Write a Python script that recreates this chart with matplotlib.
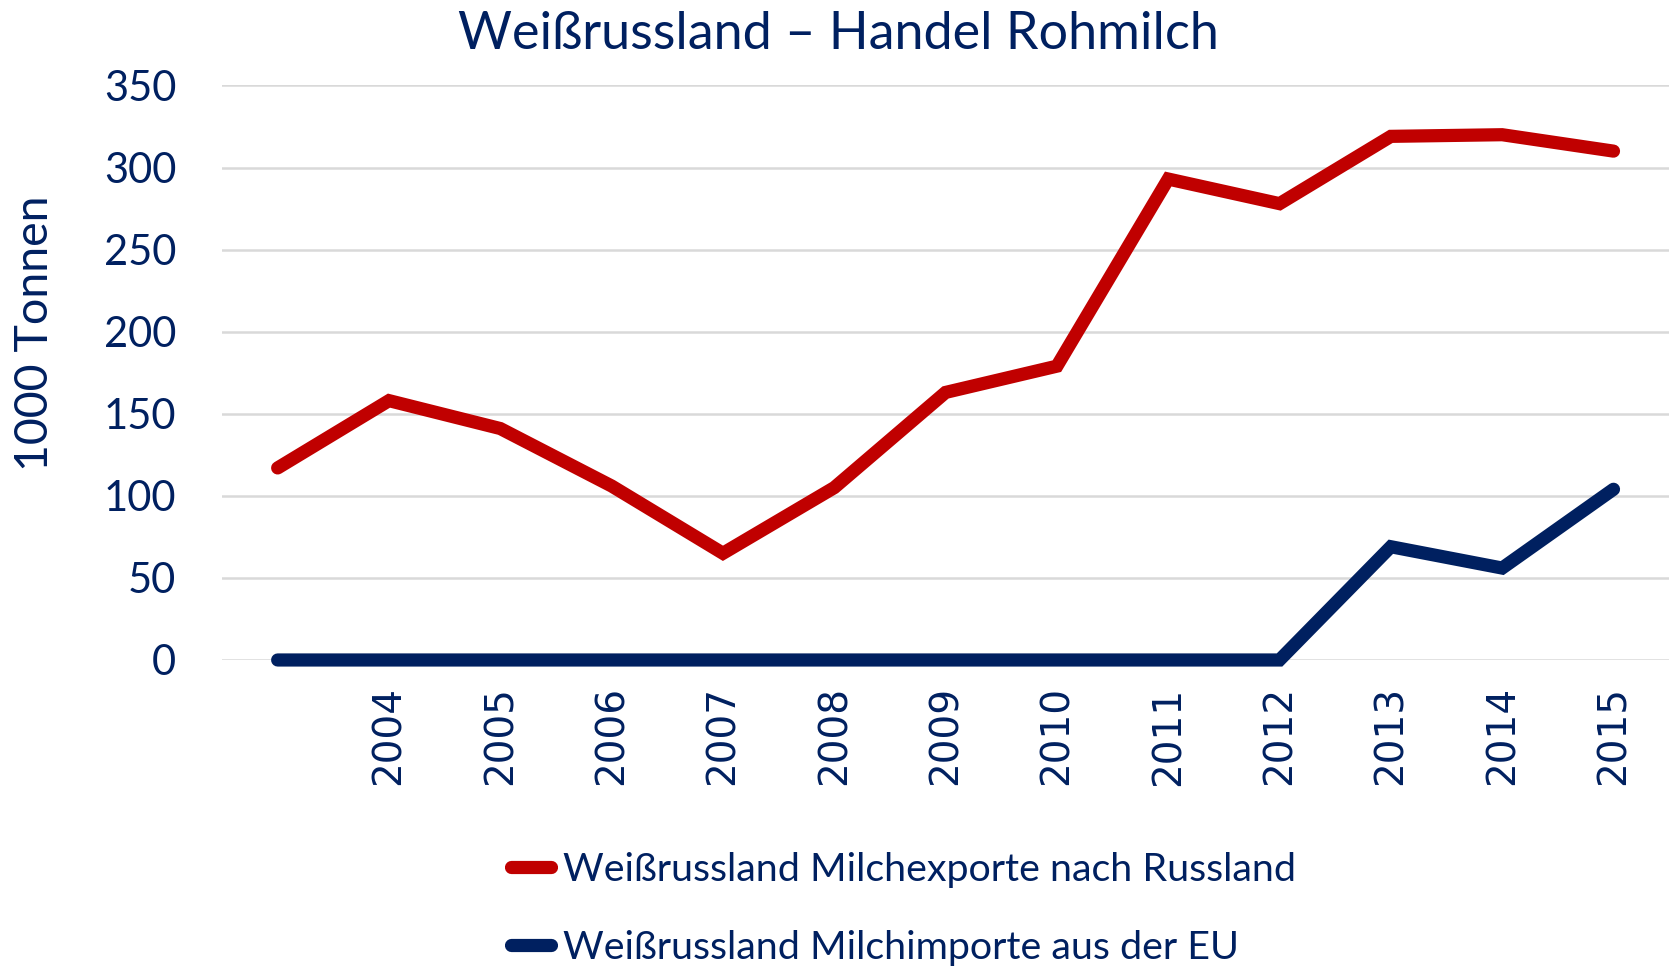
import matplotlib.pyplot as plt

years = ["", "2004", "2005", "2006", "2007", "2008", "2009", "2010",
         "2011", "2012", "2013", "2014", "2015"]
exporte = [117, 158, 141, 106, 65, 105, 163, 179, 293, 278, 319, 320, 310]
importe = [0, 0, 0, 0, 0, 0, 0, 0, 0, 0, 69, 56, 104]

label_exp = "Weißrussland Milchexporte nach Russland"
label_imp = "Weißrussland Milchimporte aus der EU"

navy = "#002060"
red = "#C00000"

plt.rcParams['font.family'] = ['Lato', 'DejaVu Sans']

fig = plt.figure(figsize=(16.73, 9.69), dpi=100)
ax = fig.add_axes([0.1327, 0.3189, 0.865, 0.5929])

x = range(len(years))
ax.plot(x, exporte, color=red, lw=9.5, solid_capstyle='round',
        solid_joinstyle='miter', label=label_exp, clip_on=False, zorder=3)
ax.plot(x, importe, color=navy, lw=9.5, solid_capstyle='round',
        solid_joinstyle='miter', label=label_imp, clip_on=False, zorder=3)

ax.set_xlim(-0.5, len(years) - 0.5)
ax.set_ylim(0, 350)
ax.set_yticks(range(0, 351, 50))
ax.set_xticks(list(x))
ax.set_xticklabels(years, rotation=90, family='DejaVu Sans', fontsize=28,
                   color=navy)
ax.tick_params(axis='y', labelsize=30, colors=navy, length=0, pad=33)
ax.tick_params(axis='x', length=0, pad=19)
ax.grid(axis='y', color='#D9D9D9', lw=1.8)
ax.set_axisbelow(True)
for s in ax.spines.values():
    s.set_visible(False)

fig.text(0.021, 0.656, "1000 Tonnen", fontsize=33.5, color=navy,
         rotation=90, ha='center', va='center')
fig.text(0.501, 0.964, "Weißrussland – Handel Rohmilch", fontsize=37.5,
         color=navy, ha='center', va='center')

leg = fig.legend(loc='center', bbox_to_anchor=(0.540, 0.062), ncol=1,
                 frameon=False, fontsize=28.4, handlelength=1.0,
                 handletextpad=0.3, labelspacing=1.08)
for t in leg.get_texts():
    t.set_color(navy)

fig.savefig("out.png", dpi=100)
